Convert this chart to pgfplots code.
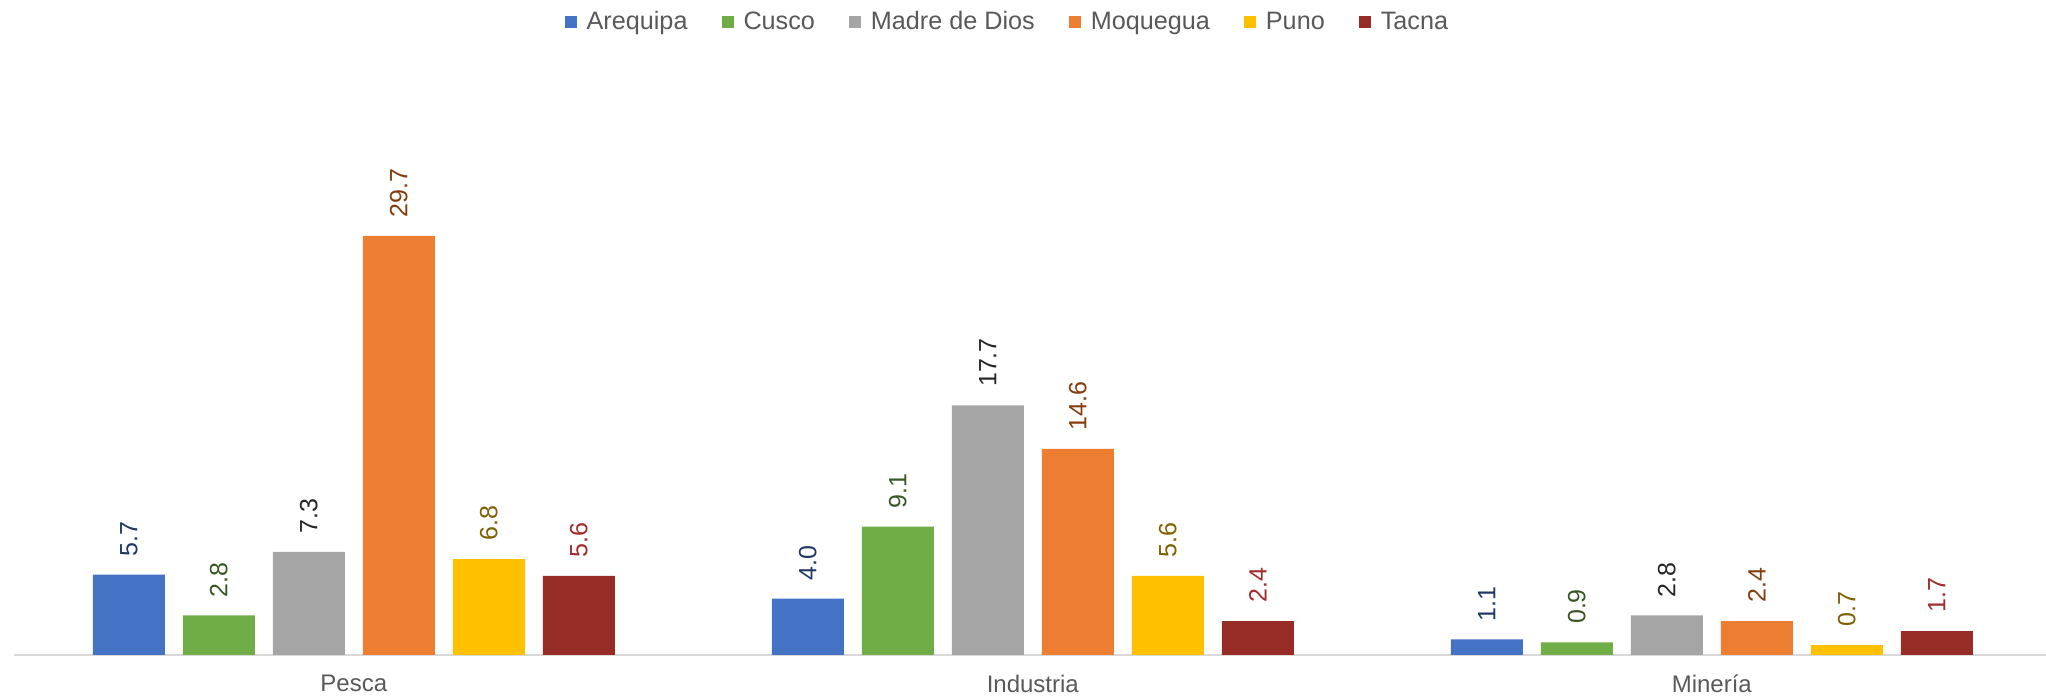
\documentclass[border=0pt]{standalone}
\usepackage{pgfplots}
\pgfplotsset{compat=1.18}
\usepackage{fontspec}
\setmainfont{Liberation Sans}
\definecolor{cA}{HTML}{4472C4}
\definecolor{cB}{HTML}{70AD47}
\definecolor{cC}{HTML}{A5A5A5}
\definecolor{cD}{HTML}{ED7D31}
\definecolor{cE}{HTML}{FFC000}
\definecolor{cF}{HTML}{972B26}
\definecolor{lA}{HTML}{203864}
\definecolor{lB}{HTML}{385723}
\definecolor{lC}{HTML}{262626}
\definecolor{lD}{HTML}{843C0C}
\definecolor{lE}{HTML}{7F6000}
\definecolor{lF}{HTML}{A02B2B}
\definecolor{tickgray}{HTML}{595959}
\definecolor{axgray}{HTML}{D9D9D9}
\begin{document}
\begin{tikzpicture}
\useasboundingbox (0pt,0pt) rectangle (1023pt,350pt);
\begin{axis}[
  at={(7.15pt,22.5pt)}, anchor=south west,
  scale only axis, width=1018.5pt, height=296.3pt,
  xmin=-0.5, xmax=2.5, ymin=0, ymax=42,
  clip=false,
  hide y axis,
  axis x line*=bottom,
  x axis line style={-, color=axgray, line width=1pt},
  xtick={0,1,2}, xticklabels={Pesca,Industria,Minería},
  major tick length=0pt,
  xticklabel style={font=\fontsize{12}{14}\selectfont, text=tickgray, yshift=-6.5pt},
  /pgf/number format/assume math mode=true,
  ybar=9pt, bar width=36pt,
  nodes near coords={\pgfmathprintnumber[fixed,fixed zerofill,precision=1]{\pgfplotspointmeta}},
  every node near coord/.append style={rotate=90, anchor=west, inner xsep=9pt, inner ysep=0pt, font=\fontsize{12.5}{14}\selectfont},
  legend columns=6,
  legend style={draw=none, at={(0.488,1.068)}, anchor=center, font=\fontsize{12.6}{14}\selectfont, text=tickgray,
    /tikz/every even column/.append style={column sep=15pt},
    /tikz/every odd column/.append style={column sep=3pt}},
  legend image code/.code={\fill[#1] (0pt,-3pt) rectangle (6pt,3pt);},
]
\addplot[fill=cA, draw=none, every node near coord/.append style={text=lA}] coordinates {(0,5.7) (1,4.0) (2,1.1)};
\addplot[fill=cB, draw=none, every node near coord/.append style={text=lB}] coordinates {(0,2.8) (1,9.1) (2,0.9)};
\addplot[fill=cC, draw=none, every node near coord/.append style={text=lC}] coordinates {(0,7.3) (1,17.7) (2,2.8)};
\addplot[fill=cD, draw=none, every node near coord/.append style={text=lD}] coordinates {(0,29.7) (1,14.6) (2,2.4)};
\addplot[fill=cE, draw=none, every node near coord/.append style={text=lE}] coordinates {(0,6.8) (1,5.6) (2,0.7)};
\addplot[fill=cF, draw=none, every node near coord/.append style={text=lF}] coordinates {(0,5.6) (1,2.4) (2,1.7)};
\legend{Arequipa,Cusco,Madre de Dios,Moquegua,Puno,Tacna}
\end{axis}
\end{tikzpicture}
\end{document}
